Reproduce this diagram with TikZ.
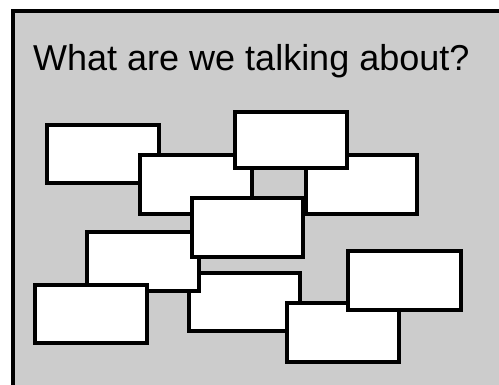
\documentclass[tikz,border=0pt]{standalone}
\usepackage{fontspec}
\setmainfont{Liberation Sans}
\begin{document}
\begin{tikzpicture}[x=1pt,y=-1pt,
  card/.style={draw=black,fill=white,line width=3.1pt,line join=miter},
  frame/.style={draw=black,line width=3.2pt}]
\useasboundingbox (0,0) rectangle (499,385);
\fill[white] (0,0) rectangle (499,385);
\fill[black!20] (13,11) rectangle (499,385);
\draw[frame] (13,385) -- (13,11) -- (499,11);
\node[anchor=base west,inner sep=0pt,font=\fontsize{36}{40}\selectfont] (title) at (33,71) {What are we talking about?};
\path[card] (47,125) rectangle (159,183);   % R1
\path[card] (140,155) rectangle (252,214);  % R2
\path[card] (306,155) rectangle (417,214);  % R4
\path[card] (235,112) rectangle (347,168);  % R3
\path[card] (189,273) rectangle (300,331);  % R8
\path[card] (87,232) rectangle (199,291);   % R6
\path[card] (192,198) rectangle (303,257);  % R5
\path[card] (35,285) rectangle (147,343);   % R7
\path[card] (287,303) rectangle (399,362);  % R10
\path[card] (348,251) rectangle (461,310);  % R9
\end{tikzpicture}
\end{document}
